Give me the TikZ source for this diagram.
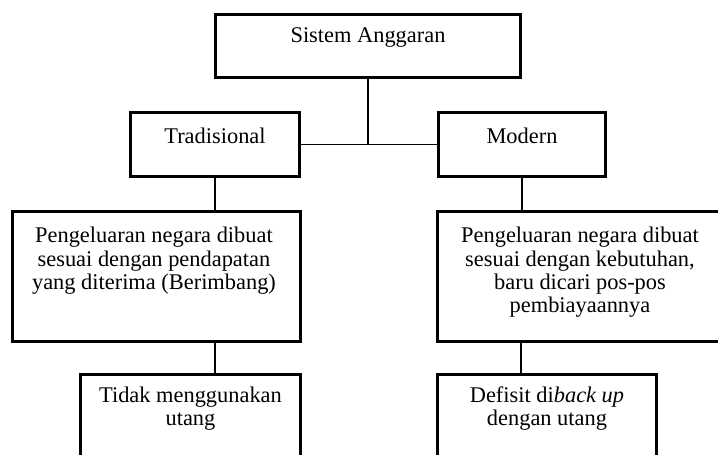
\documentclass[tikz,border=0pt]{standalone}
\usepackage{fontspec}
\setmainfont{Liberation Serif}
\usepackage{tikz}
\usetikzlibrary{positioning, calc}
\tikzset{
  budgetbox/.style  = {rectangle, draw=black, line width=2.5pt, inner sep=0pt},
  budgettext/.style = {anchor=north, align=center, inner sep=0pt,
                       font=\fontsize{16.8}{17.5}\selectfont},
  budgetlink/.style = {draw=black, line width=1.3pt},
}

\begin{document}
\begin{tikzpicture}[x=0.75pt, y=-0.75pt]
  \useasboundingbox (0,0) rectangle (718,454);
  \clip (0,0) rectangle (718,454);
  \coordinate (s) at (368,46);
  \coordinate (tr) at (215,144.5);
  \coordinate (mo) at (522,144.5);
  \coordinate (pl) at (156.5,276.5);
  \coordinate (pr) at (580,276.5);
  \coordinate (ul) at (190.5,430);
  \coordinate (ur) at (547,430);
  % boxes
  \node[budgetbox, minimum width=228.5pt, minimum height=47pt] (sistem) at (s) {};
  \node[budgetbox, minimum width=126.5pt, minimum height=47.8pt] (trad) at (tr) {};
  \node[budgetbox, minimum width=125pt, minimum height=47.8pt] (modern) at (mo) {};
  \node[budgetbox, minimum width=215.8pt, minimum height=97.3pt] (pengL) at (pl) {};
  \node[budgetbox, minimum width=213.5pt, minimum height=97.3pt] (pengR) at (pr) {};
  \node[budgetbox, minimum width=164.8pt, minimum height=83pt] (utangL) at (ul) {};
  \node[budgetbox, minimum width=164pt, minimum height=83pt] (utangR) at (ur) {};
  % texts
  \node[budgettext, below=10.9pt of sistem.north] (sistemtxt) {Sistem Anggaran};
  \node[budgettext, below=12.4pt of trad.north] (tradtxt) {Tradisional};
  \node[budgettext, below=12.4pt of modern.north] (moderntxt) {Modern};
  \node[budgettext, below=12.7pt of pengL.north, xshift=-1.9pt] (pengLtxt)
    {Pengeluaran negara dibuat\\sesuai dengan pendapatan\\yang diterima (Berimbang)};
  \node[budgettext, below=12.7pt of pengR.north] (pengRtxt)
    {Pengeluaran negara dibuat\\sesuai dengan kebutuhan,\\baru dicari pos-pos\\pembiayaannya};
  \node[budgettext, below=10.1pt of utangL.north] (utangLtxt)
    {Tidak menggunakan\\utang};
  \node[budgettext, below=10.1pt of utangR.north] (utangRtxt)
    {Defisit di\textit{back up}\\dengan utang};
  % links
  \draw[budgetlink] (sistem.south) -- (sistem.south |- trad.east);
  \draw[budgetlink] (trad.east) -- (modern.west);
  \draw[budgetlink] (trad.south) -- (trad.south |- pengL.north);
  \draw[budgetlink] (trad.south |- pengL.south) -- (trad.south |- utangL.north);
  \draw[budgetlink] (modern.south) -- (modern.south |- pengR.north);
  \draw[budgetlink] ([xshift=-1pt]modern.south |- pengR.south) -- ([xshift=-1pt]modern.south |- utangR.north);
\end{tikzpicture}
\end{document}
